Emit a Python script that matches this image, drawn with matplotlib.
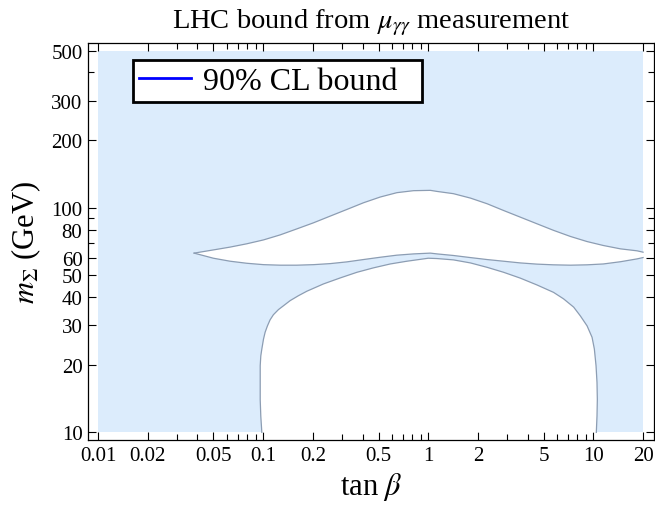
import matplotlib
matplotlib.use("Agg")
import matplotlib.pyplot as plt
from matplotlib.ticker import FixedLocator, NullFormatter
from matplotlib.lines import Line2D

plt.rcParams['font.family'] = ['Liberation Serif', 'DejaVu Serif']
plt.rcParams['mathtext.fontset'] = 'stix'

# scan region
x_min, x_max = 0.01, 20
y_min, y_max = 10, 500

# upper white lens (top and bottom edges)
lens_top_x = [0.0382, 0.050, 0.0631, 0.0796, 0.1005, 0.1268, 0.160, 0.202, 0.255, 0.321, 0.405, 0.512,
              0.646, 0.815, 1.03, 1.13, 1.42, 1.80, 2.27, 2.86, 3.61, 4.56, 5.74, 7.26, 9.16, 11.5,
              14.6, 18.4, 20]
lens_top_y = [62.8, 64.9, 66.8, 69.1, 71.9, 75.7, 80.5, 85.7, 91.8, 98.2, 105.2, 111.6,
              116.7, 119.1, 119.5, 118.2, 115.5, 110.4, 104.2, 97.2, 90.8, 84.8, 79.3, 74.5, 70.7, 67.9,
              65.6, 64.3, 63.4]
lens_bot_x = [0.0382, 0.050, 0.0631, 0.0796, 0.1005, 0.1268, 0.160, 0.202, 0.255, 0.321, 0.405, 0.512,
              0.646, 0.815, 1.03, 1.13, 1.42, 1.80, 2.27, 2.86, 3.61, 4.56, 5.74, 7.26, 9.16, 11.5,
              14.6, 18.4, 20]
lens_bot_y = [62.8, 59.6, 57.8, 56.6, 55.8, 55.5, 55.5, 55.8, 56.4, 57.4, 58.8, 60.2,
              61.5, 62.3, 62.8, 62.3, 61.3, 60.0, 58.8, 57.8, 56.8, 56.1, 55.7, 55.5, 55.7, 56.2,
              57.5, 59.2, 60.0]

# lower white region boundary
low_x = [0.0982, 0.0968, 0.096, 0.096, 0.096, 0.0968, 0.0982, 0.1005, 0.1028, 0.1062, 0.1102,
         0.1154, 0.1238, 0.1327, 0.1458, 0.1637, 0.184, 0.232, 0.293, 0.370, 0.466, 0.589, 0.743,
         0.938, 1.0, 1.13, 1.42, 1.80, 2.27, 2.86, 3.61, 4.56, 5.74, 6.60, 7.60, 8.34, 9.16, 9.82,
         10.14, 10.38, 10.52, 10.57, 10.52, 10.42]
low_y = [10.0, 11.8, 14.0, 16.7, 19.8, 21.9, 23.5, 26.0, 27.9, 29.8, 31.7,
         33.4, 35.2, 36.6, 38.6, 40.6, 42.5, 45.8, 48.7, 51.6, 54.0, 56.2, 57.8,
         59.2, 59.6, 59.4, 58.6, 56.8, 54.3, 51.6, 48.6, 45.3, 42.0, 39.3, 36.1, 33.0, 29.8, 26.5,
         23.5, 19.8, 16.7, 14.0, 11.8, 10.0]

x_major = [0.01, 0.02, 0.05, 0.1, 0.2, 0.5, 1, 2, 5, 10, 20]
x_labels = ['0.01', '0.02', '0.05', '0.1', '0.2', '0.5', '1', '2', '5', '10', '20']
y_major = [10, 20, 30, 40, 50, 60, 80, 100, 200, 300, 500]
y_minor = [70, 90, 400]

fill_col = '#dcecfc'
edge_col = '#8c9db3'

fig = plt.figure(figsize=(6.55, 5.10), dpi=100)
ax = fig.add_axes([0.1344, 0.1353, 0.8641, 0.7784])
ax.set_xscale('log')
ax.set_yscale('log')

ax.fill_between([x_min, x_max], y_min, y_max, color=fill_col, lw=0, zorder=1)
ax.fill(lens_top_x + lens_bot_x[::-1], lens_top_y + lens_bot_y[::-1], color='white', lw=0, zorder=2)
ax.fill(low_x, low_y, color='white', lw=0, zorder=2)
ax.plot(lens_top_x, lens_top_y, color=edge_col, lw=0.9, zorder=3)
ax.plot(lens_bot_x, lens_bot_y, color=edge_col, lw=0.9, zorder=3)
ax.plot(low_x, low_y, color=edge_col, lw=0.9, zorder=3)

ax.set_xlim(0.0087, 23.3)
ax.set_ylim(9.25, 541)

ax.xaxis.set_major_locator(FixedLocator(x_major))
ax.set_xticklabels(x_labels)
x_minor = [m * d for d in [0.01, 0.1, 1, 10] for m in range(2, 10)
           if m * d not in x_major and m * d < 20]
ax.xaxis.set_minor_locator(FixedLocator(x_minor))
ax.xaxis.set_minor_formatter(NullFormatter())
ax.yaxis.set_major_locator(FixedLocator(y_major))
ax.set_yticklabels([str(v) for v in y_major])
ax.yaxis.set_minor_locator(FixedLocator(y_minor))
ax.yaxis.set_minor_formatter(NullFormatter())
ax.tick_params(which='both', direction='in', top=True, right=True, labelsize=15, width=0.8)
ax.tick_params(which='major', length=6, pad=4)
ax.tick_params(which='minor', length=4)
for s in ax.spines.values():
    s.set_linewidth(0.9)

ax.set_xlabel(r'tan $\beta$', fontsize=22, labelpad=4)
ax.set_ylabel(r'$m_\Sigma$ (GeV)', fontsize=22, labelpad=6)
ax.set_title(r'LHC bound from $\mu_{\gamma\gamma}$ measurement', fontsize=20.5, pad=11)

proxy = Line2D([], [], color='blue', lw=2)
leg = ax.legend([proxy], ['90% CL bound'], loc='upper left', bbox_to_anchor=(0.0795, 0.957, 0.511, 0),
                mode='expand', fontsize=23, frameon=True, fancybox=False, handlelength=1.6,
                handletextpad=0.4, borderpad=0.2, borderaxespad=0)
leg.get_frame().set_edgecolor('black')
leg.get_frame().set_linewidth(2)
leg.get_frame().set_alpha(1)

fig.savefig('out.png', dpi=100)
